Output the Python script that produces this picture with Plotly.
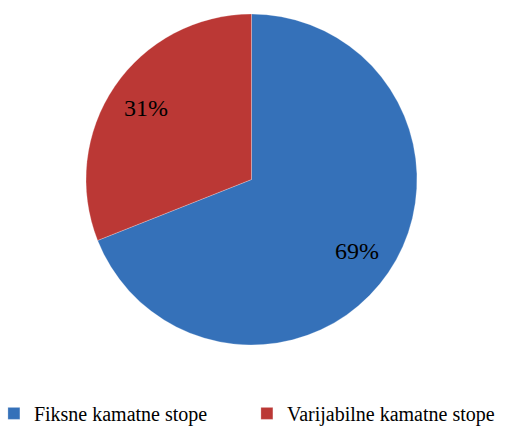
import math
import plotly.graph_objects as go

labels = ["Fiksne kamatne stope", "Varijabilne kamatne stope"]
values = [69, 31]
colors = ["#3571b9", "#bb3835"]

W, H = 508, 426
MB = 36                      # bottom margin holding the legend
HP = H - MB                  # plot-area height
dom_x = [86 / W, 417 / W]
dom_y = [(HP - 345) / HP, (HP - 14) / HP]
SERIF = "Liberation Serif, Times New Roman, serif"

fig = go.Figure(go.Pie(
    labels=labels,
    values=values,
    sort=False,
    direction="clockwise",
    rotation=0,
    marker=dict(colors=colors, line=dict(color="rgba(255,255,255,0.5)", width=0.5)),
    textinfo="none",
    domain=dict(x=dom_x, y=dom_y),
    hoverinfo="label+percent",
))

# percentage labels placed along each slice's bisector
total = sum(values)
cx = (dom_x[0] + dom_x[1]) / 2
cy = (dom_y[0] + dom_y[1]) / 2
R = (dom_x[1] - dom_x[0]) * W / 2
cum = 0
for v in values:
    mid = (cum + v / 2) / total * 2 * math.pi
    cum += v
    r = 0.77 * R
    fig.add_annotation(
        x=cx + r * math.sin(mid) / W,
        y=cy + r * math.cos(mid) / HP,
        xref="paper", yref="paper",
        xanchor="center", yanchor="middle",
        text=f"{round(v / total * 100)}%",
        showarrow=False,
        font=dict(family=SERIF, size=24, color="black"),
    )

fig.update_layout(
    width=W, height=H,
    margin=dict(l=0, r=0, t=0, b=MB, autoexpand=False),
    paper_bgcolor="white",
    font=dict(family=SERIF, size=20, color="black"),
    showlegend=True,
    legend=dict(
        orientation="h",
        x=-0.012, xanchor="left",
        y=-0.01, yanchor="top",
        itemwidth=30,
        entrywidth=208,
        bgcolor="rgba(0,0,0,0)",
        font=dict(family=SERIF, size=20, color="black"),
    ),
)

fig.write_html("out.html", post_script="document.body.style.margin='0';",
               config={"displayModeBar": False})
